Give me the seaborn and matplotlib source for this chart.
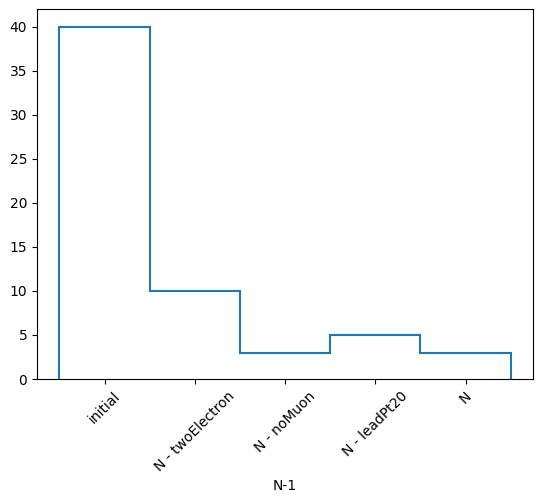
import numpy as np
import matplotlib
matplotlib.use("Agg")
import matplotlib.pyplot as plt
import seaborn as sns

categories = ["initial", "N - twoElectron", "N - noMuon", "N - leadPt20", "N"]
counts = [40, 10, 3, 5, 3]

fig, ax = plt.subplots(figsize=(5.43, 5.03), dpi=100)
fig.subplots_adjust(left=0.068, right=0.982, top=0.982, bottom=0.2465)

positions = np.arange(len(categories))
edges = np.arange(len(categories) + 1) - 0.5
ax.hist(positions, bins=edges, weights=counts, histtype="step",
        color=sns.color_palette("tab10")[0], linewidth=1.5)

ax.set_xlabel("N-1")
ax.set_xticks(positions)
ax.set_xticklabels(categories, rotation=45)

fig.savefig("out.png", dpi=100)
